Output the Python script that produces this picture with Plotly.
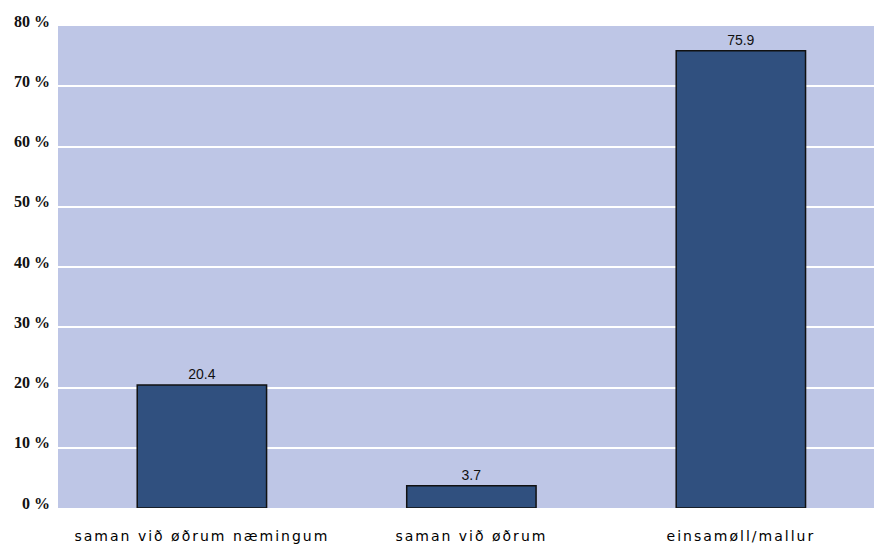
import plotly.graph_objects as go

categories = ["saman við øðrum næmingum", "saman við øðrum", "einsamøll/mallur"]
values = [20.4, 3.7, 75.9]
tick_vals = [0, 10, 20, 30, 40, 50, 60, 70, 80]
tick_text = ["0 %", "10 %", "20 %", "30 %", "40 %", "50 %", "60 %", "70 %", "80 %"]

xpos = list(range(len(categories)))

fig = go.Figure(go.Bar(
    x=xpos, y=values, width=0.48,
    marker=dict(color="#30507F", line=dict(color="#111111", width=1.5)),
    text=[f"{v:.1f}" for v in values], textposition="outside",
    textfont=dict(family="Liberation Sans, Arial", size=14, color="#111111"),
    cliponaxis=False,
))

fig.update_layout(
    width=874, height=545,
    margin=dict(l=58, r=0, t=26, b=37),
    paper_bgcolor="white", plot_bgcolor="#BEC6E6",
    showlegend=False,
    xaxis=dict(
        range=[-0.534, 2.494], tickvals=xpos, ticktext=categories,
        showgrid=False, zeroline=False, showline=False, automargin=False,
        ticks="outside", ticklen=0, ticklabelstandoff=15,
        tickfont=dict(family="DejaVu Sans", size=14, color="#000000"),
    ),
    yaxis=dict(
        range=[0, 80], tickvals=tick_vals, ticktext=tick_text,
        showgrid=True, gridcolor="white", gridwidth=2,
        zeroline=False, showline=False, automargin=False,
        ticklabelshift=-5, ticklabelstandoff=7,
        tickfont=dict(family="Liberation Serif, Times New Roman", size=16, color="#111111", weight="bold"),
    ),
)

post = (
    "document.body.style.margin='0';document.body.style.overflow='hidden';"
    "document.querySelectorAll('.xtick text').forEach(function(t){t.style.letterSpacing='2px';});"
)
fig.write_html("out.html", post_script=post, config={"displayModeBar": False})
